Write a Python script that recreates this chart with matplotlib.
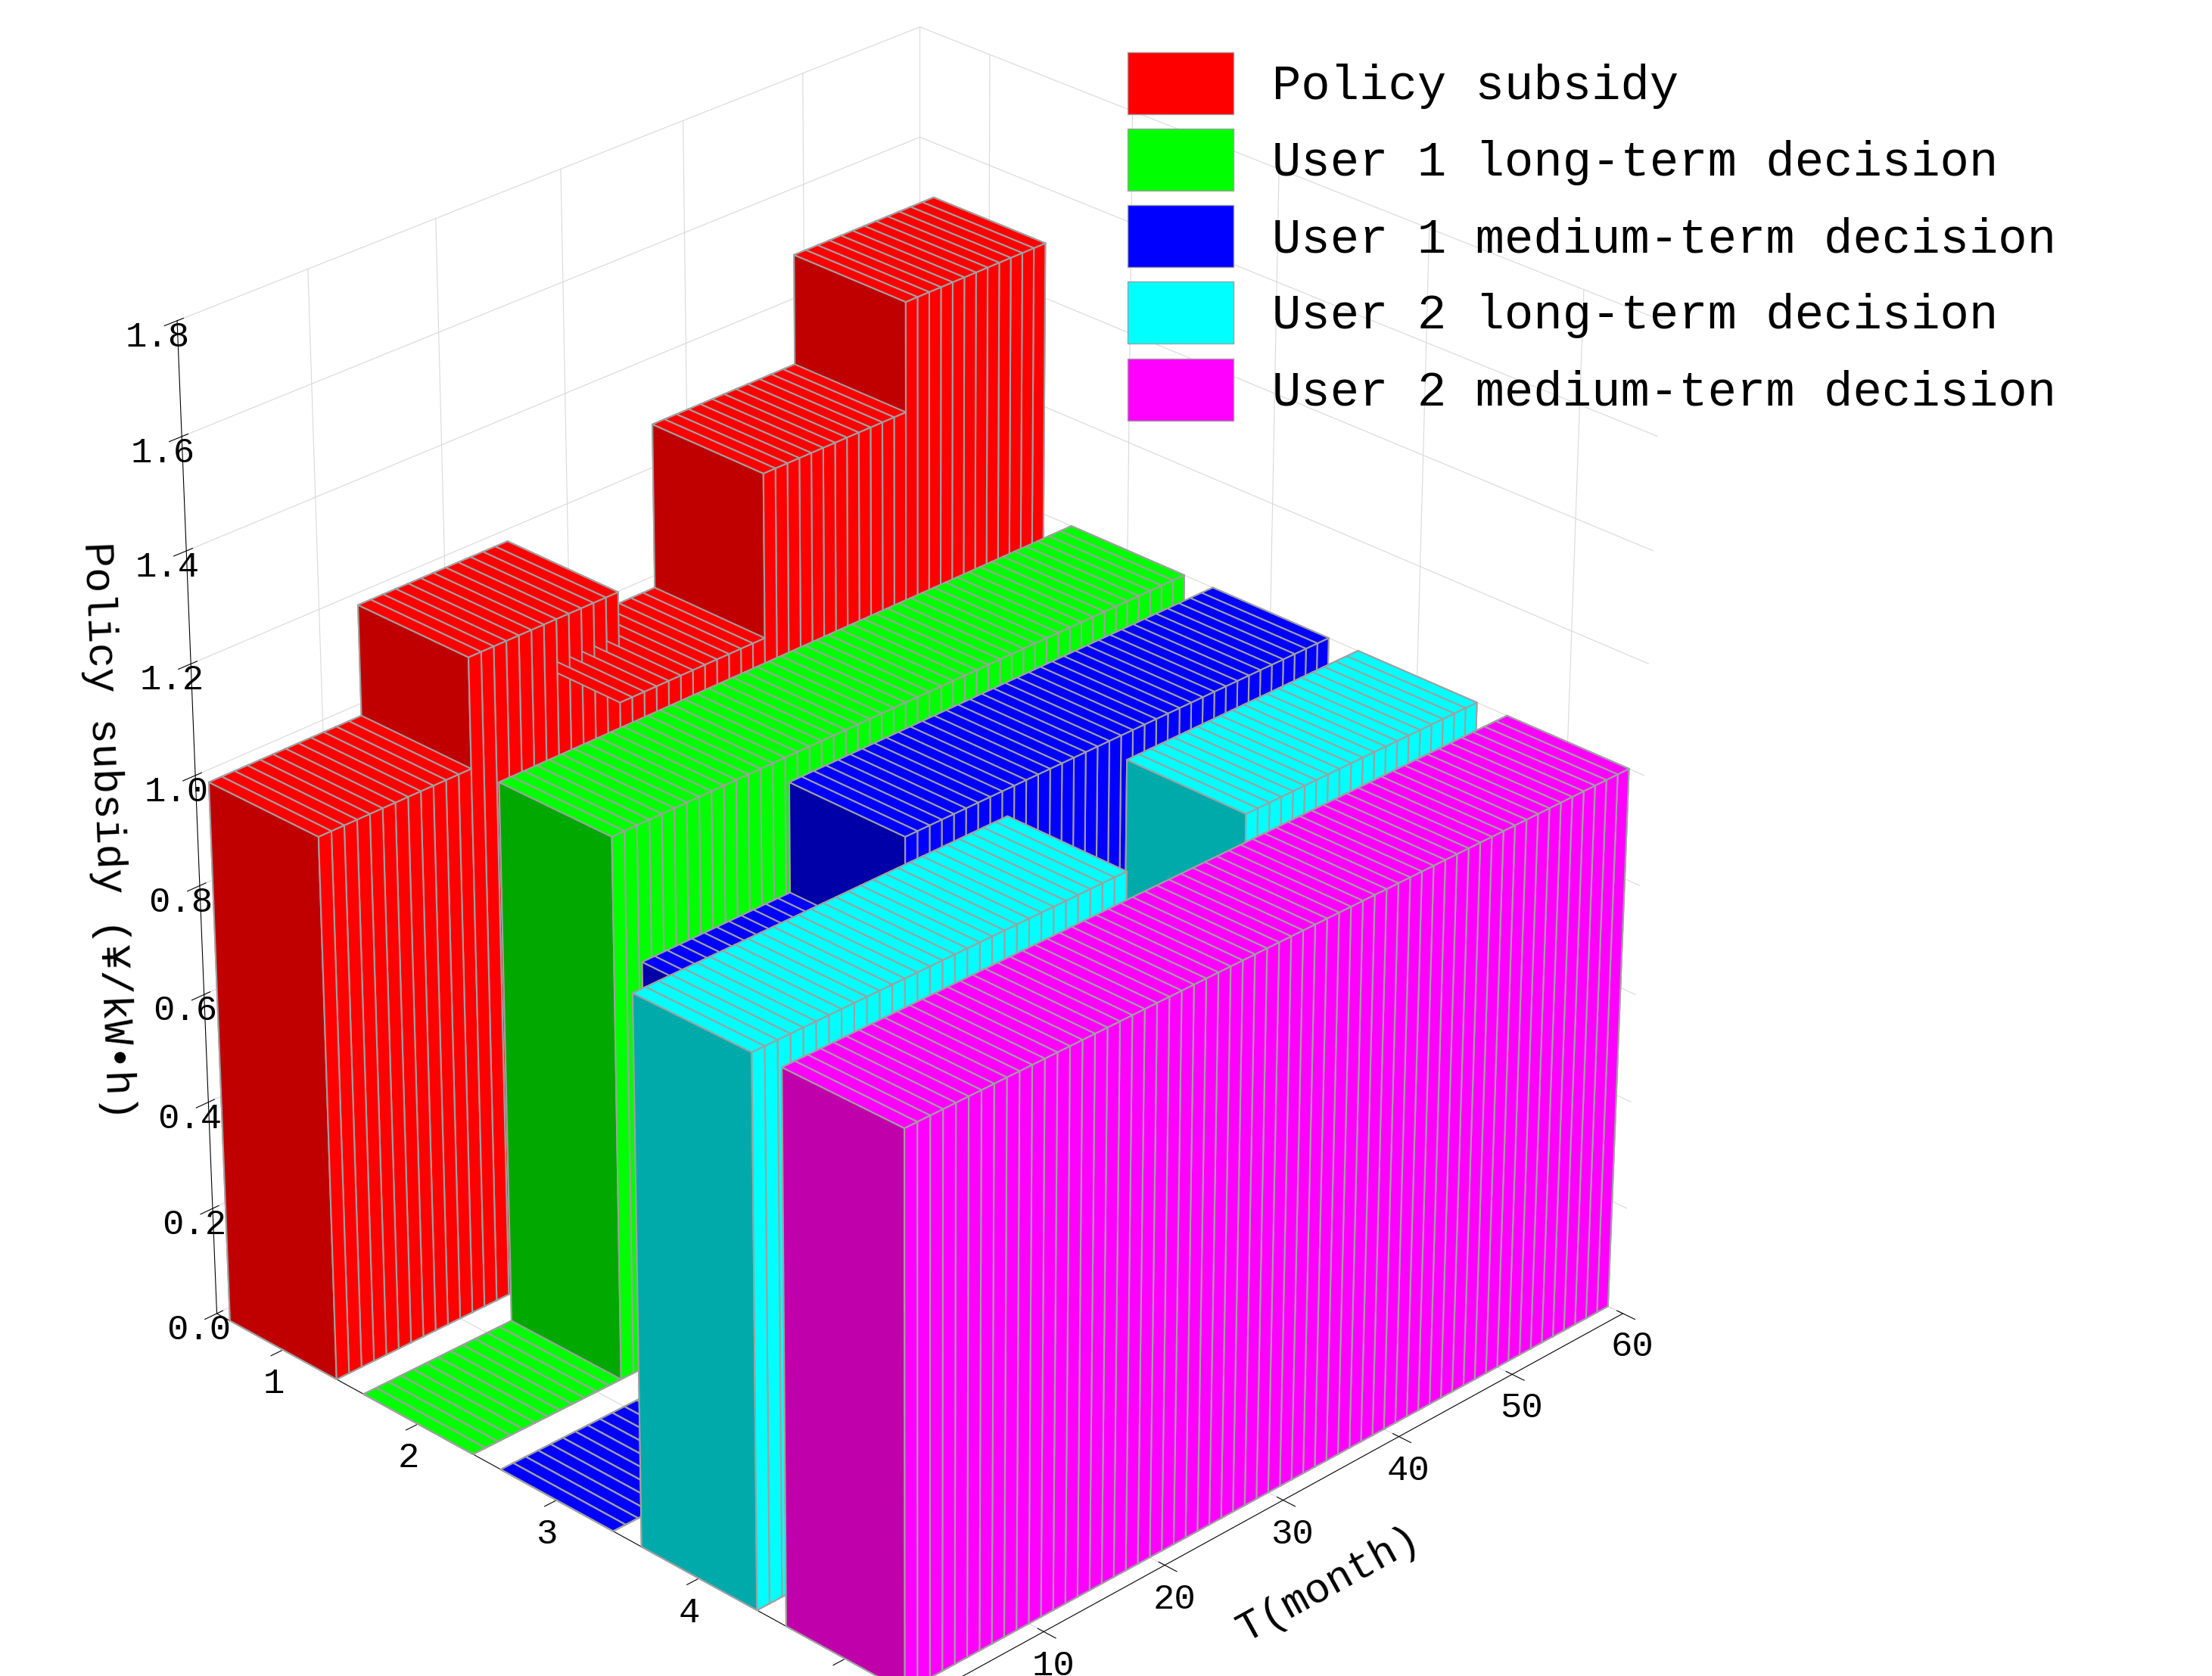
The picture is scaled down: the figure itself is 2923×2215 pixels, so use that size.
import numpy as np
import matplotlib
matplotlib.use("Agg")
import matplotlib.pyplot as plt
from matplotlib.patches import Patch
from matplotlib.colors import to_rgb

series = ["Policy subsidy", "User 1 long-term decision", "User 1 medium-term decision",
          "User 2 long-term decision", "User 2 medium-term decision"]
colors = ["#FF0000", "#00FF00", "#0000FF", "#00FFFF", "#FF00FF"]
dark = ["#C00000", "#00A800", "#0000A8", "#00AAAA", "#C000AA"]
months = list(range(1, 61))

def steps(pairs):
    out = []
    for n, v in pairs:
        out += [v] * n
    return out

policy = steps([(12, 1.0), (12, 1.2), (12, 1.0), (12, 1.3), (12, 1.5)])
u1_long = steps([(12, 0.0), (48, 1.0)])
u1_med = steps([(12, 0.0), (12, 0.8), (36, 1.0)])
u2_long = steps([(30, 1.0), (10, 0.0), (20, 1.0)])
u2_med = steps([(60, 1.0)])
values = [policy, u1_long, u1_med, u2_long, u2_med]

plt.rcParams['font.family'] = ['Liberation Mono', 'DejaVu Sans Mono', 'DejaVu Sans']
fig = plt.figure(figsize=(29.23, 22.15), dpi=100)
ax = fig.add_axes([-0.02, -0.04, 0.85, 1.06], projection='3d')

xs, ys, dzs, fc = [], [], [], []
for i, vals in enumerate(values):
    for t, v in zip(months, vals):
        xs.append(i + 1 - 0.4)
        ys.append(t - 1)
        dzs.append(v)
        b, d = to_rgb(colors[i]), to_rgb(dark[i])
        # faces: -z, +z, -y, +y, -x, +x
        fc += [b, b, d, d, d, b]
xs = np.array(xs); ys = np.array(ys); dzs = np.array(dzs)
ax.bar3d(xs, ys, np.zeros_like(dzs), 0.8, 1.0, dzs, color=fc, shade=False,
         edgecolor='#A0A0A0', linewidth=1.5)

ax.set_xlim(0.5, 5.5)
ax.set_ylim(0, 60)
ax.set_zlim(0, 1.8)
ax.set_xticks([1, 2, 3, 4, 5])
ax.set_yticks([10, 20, 30, 40, 50, 60])
ax.set_zticks(np.arange(0, 1.81, 0.2))
ax.set_zticklabels([f"{v:.1f}" for v in np.arange(0, 1.81, 0.2)])
ax.tick_params(labelsize=34)
ax.zaxis.set_ticks_position('lower')
ax.zaxis.set_label_position('lower')
ax.set_ylabel("T(month)", fontsize=40, labelpad=34)
ax.set_zlabel("Policy subsidy (¥/kW•h)", fontsize=40, labelpad=34)
ax.view_init(elev=28, azim=-45)
ax.set_box_aspect((1, 1, 1.1))
for a in (ax.xaxis, ax.yaxis, ax.zaxis):
    a.set_pane_color((1, 1, 1, 0))
    a._axinfo['grid']['color'] = (0.85, 0.85, 0.85, 1)

handles = [Patch(facecolor=c, edgecolor='#A0A0A0') for c in colors]
fig.legend(handles, series, loc='upper left', bbox_to_anchor=(0.49, 0.995),
           fontsize=46, frameon=False, handlelength=2.2, handleheight=1.6,
           labelspacing=0.3)
fig.savefig("out.png", dpi=100)
